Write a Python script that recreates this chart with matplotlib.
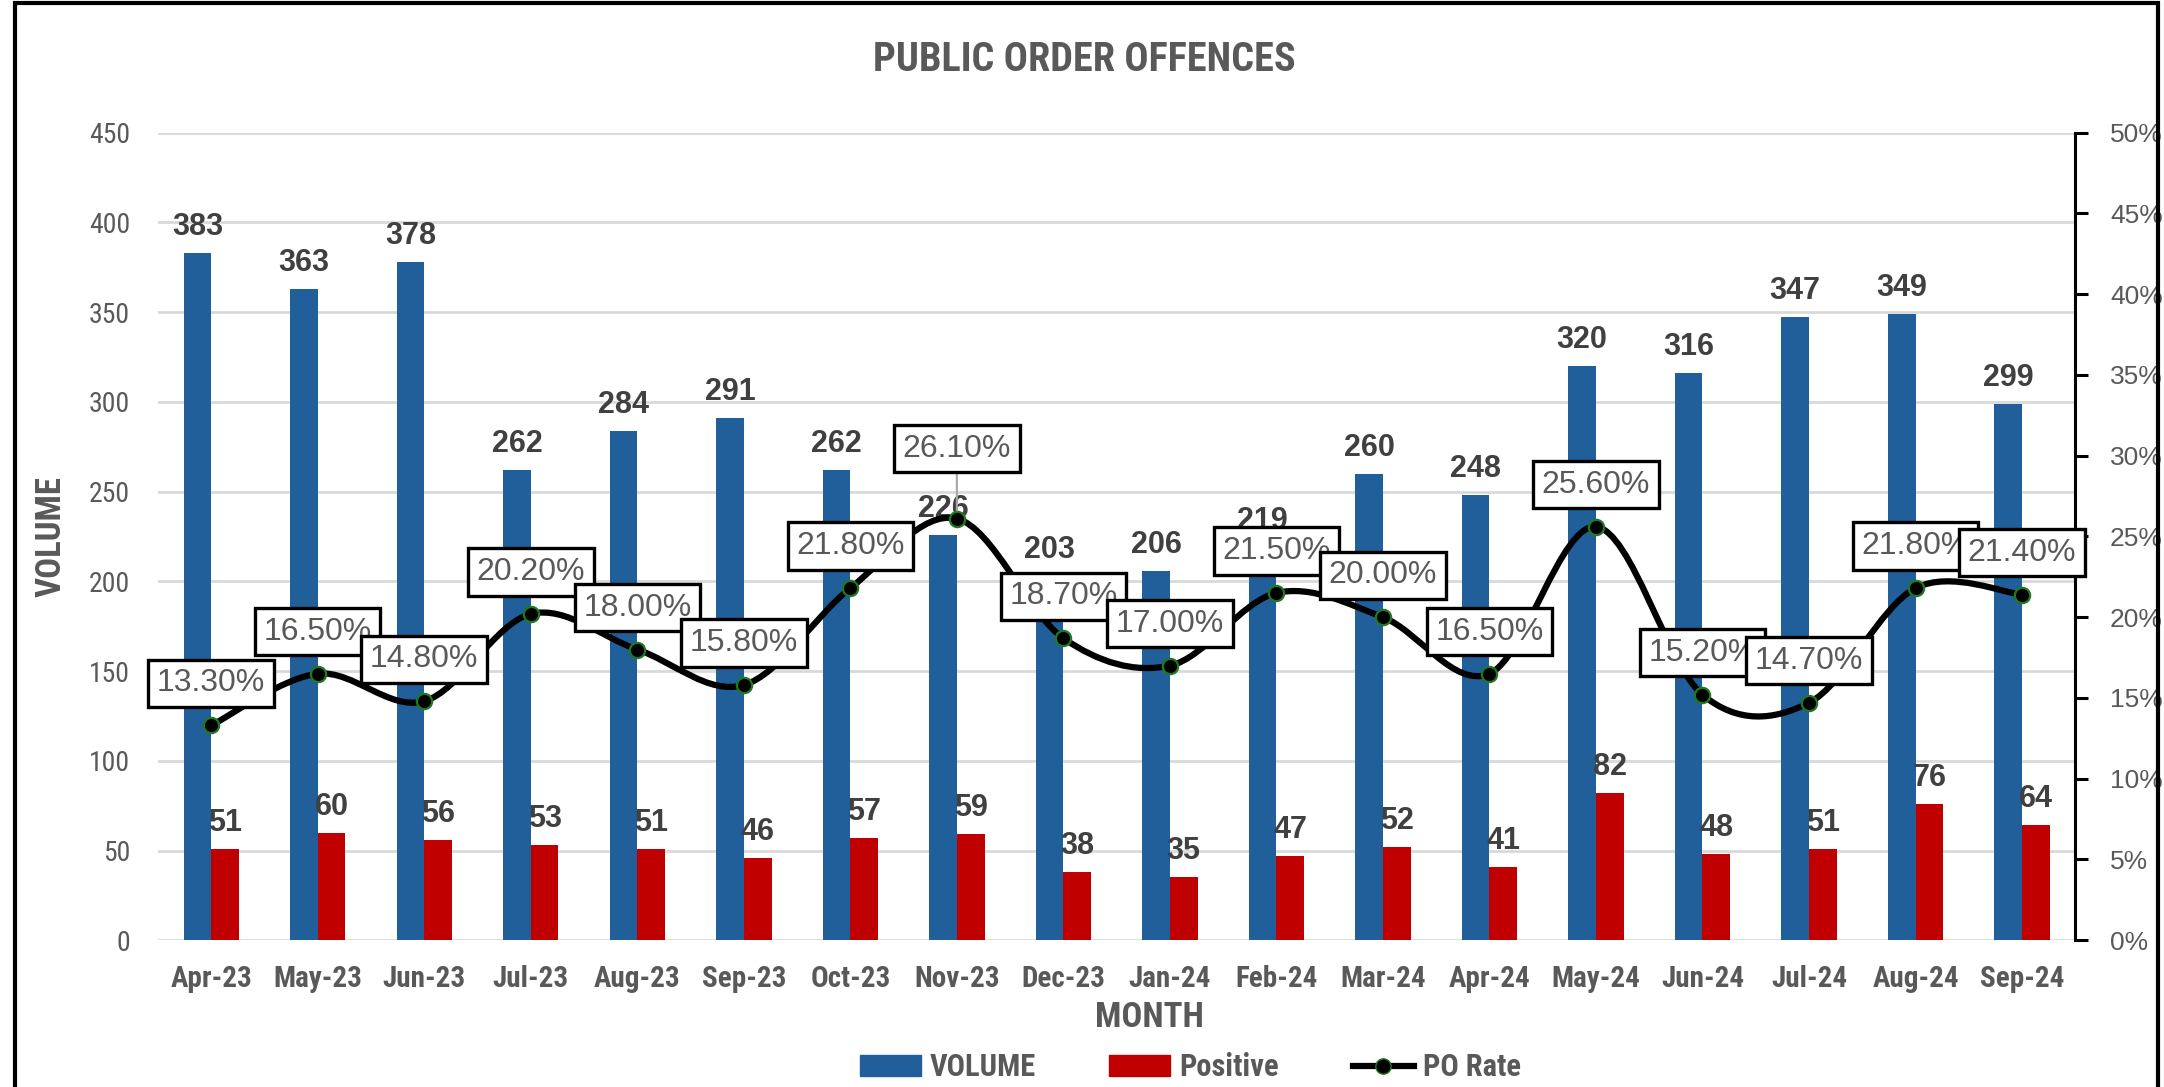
import matplotlib
matplotlib.use("Agg")
import matplotlib.pyplot as plt
from matplotlib import font_manager
from matplotlib.path import Path
from matplotlib.patches import PathPatch, Patch, Rectangle
from matplotlib.lines import Line2D

months = ["Apr-23", "May-23", "Jun-23", "Jul-23", "Aug-23", "Sep-23", "Oct-23", "Nov-23", "Dec-23",
          "Jan-24", "Feb-24", "Mar-24", "Apr-24", "May-24", "Jun-24", "Jul-24", "Aug-24", "Sep-24"]
volume = [383, 363, 378, 262, 284, 291, 262, 226, 203, 206, 219, 260, 248, 320, 316, 347, 349, 299]
positive = [51, 60, 56, 53, 51, 46, 57, 59, 38, 35, 47, 52, 41, 82, 48, 51, 76, 64]
po_rate = [13.3, 16.5, 14.8, 20.2, 18.0, 15.8, 21.8, 26.1, 18.7, 17.0, 21.5, 20.0, 16.5, 25.6, 15.2, 14.7, 21.8, 21.4]

names = {f.name for f in font_manager.fontManager.ttflist}
def pick(*cands):
    for c in cands:
        if c in names:
            return c
    return "DejaVu Sans"

cond = pick("Roboto Condensed", "Liberation Sans Narrow", "Open Sans Condensed", "Liberation Sans")
narrow = pick("Liberation Sans Narrow", "Roboto Condensed", "Liberation Sans")
arial = pick("Liberation Sans", "DejaVu Sans")

BLUE = "#215F9A"
RED = "#C00000"
GRAY = "#595959"
DARK = "#404040"

fig = plt.figure(figsize=(21.64, 10.87), dpi=100)
ax = fig.add_axes([0.073, 0.135, 0.886, 0.743])
ax2 = ax.twinx()

x = list(range(len(months)))
w = 0.26
ax.bar([i - w / 2 for i in x], volume, width=w, color=BLUE, zorder=2)
ax.bar([i + w / 2 for i in x], positive, width=w, color=RED, zorder=2)

for i in x:
    ax.annotate(str(volume[i]), (i - w / 2, volume[i]), xytext=(0, 11), textcoords="offset pixels",
                ha="center", va="bottom", fontsize=22, fontweight="bold", color=DARK, family=arial, zorder=3)
    ax.annotate(str(positive[i]), (i + w / 2, positive[i]), xytext=(0, 11), textcoords="offset pixels",
                ha="center", va="bottom", fontsize=22, fontweight="bold", color=DARK, family=arial, zorder=3)

ax.set_xlim(-0.5, len(months) - 0.5)
ax.set_ylim(0, 450)
ax.set_yticks(range(0, 451, 50))
ax.yaxis.grid(True, color="#D9D9D9", lw=2)
ax.set_axisbelow(True)
for s in ax.spines.values():
    s.set_visible(False)
ax.tick_params(axis="y", length=0, pad=20, labelsize=20, labelcolor=GRAY)
for t in ax.get_yticklabels():
    t.set_family(narrow)
ax.set_xticks(x)
ax.set_xticklabels(months, fontsize=21, fontweight="bold", color=GRAY, family=cond)
ax.tick_params(axis="x", length=0, pad=18)
ax.set_ylabel("VOLUME", fontsize=25, fontweight="bold", color=GRAY, family=cond)
ax.yaxis.set_label_coords(-0.047, 0.5)
ax.set_xlabel("MONTH", fontsize=25, fontweight="bold", color=GRAY, family=cond)
ax.xaxis.set_label_coords(0.517, -0.075)

# smoothed rate line (Catmull-Rom style bezier like Excel)
pts = list(zip(x, po_rate))
verts = [pts[0]]
codes = [Path.MOVETO]
n = len(pts)
for i in range(n - 1):
    p0 = pts[max(i - 1, 0)]
    p1 = pts[i]
    p2 = pts[i + 1]
    p3 = pts[min(i + 2, n - 1)]
    c1 = (p1[0] + (p2[0] - p0[0]) / 6, p1[1] + (p2[1] - p0[1]) / 6)
    c2 = (p2[0] - (p3[0] - p1[0]) / 6, p2[1] - (p3[1] - p1[1]) / 6)
    verts += [c1, c2, p2]
    codes += [Path.CURVE4] * 3
ax2.add_patch(PathPatch(Path(verts, codes), fill=False, edgecolor="black", lw=4.5, zorder=3, capstyle="round"))
ax2.plot(x, po_rate, "o", color="black", markeredgecolor="#1F7A1F", markeredgewidth=1.6, markersize=11, zorder=4)

for i in x:
    off = 70 if i == 7 else 42
    ax2.annotate("%.2f%%" % po_rate[i], (i, po_rate[i]), xytext=(0, off), textcoords="offset pixels",
                 ha="center", va="center", fontsize=23, color=GRAY, family=arial, zorder=6,
                 bbox=dict(boxstyle="square,pad=0.27", fc="white", ec="black", lw=2.4),
                 arrowprops=dict(arrowstyle="-", color="#A6A6A6", lw=1.5, shrinkA=0, shrinkB=6) if i == 7 else None)

ax2.set_ylim(0, 50)
ax2.set_yticks(range(0, 51, 5))
ax2.set_yticklabels(["%d%%" % v for v in range(0, 51, 5)], family=arial)
ax2.tick_params(axis="y", direction="out", length=9, width=2.2, color="black", pad=16, labelsize=19, labelcolor=GRAY)
for k in ["top", "bottom", "left"]:
    ax2.spines[k].set_visible(False)
ax2.spines["right"].set_linewidth(2.2)
ax2.spines["right"].set_color("black")

fig.text(0.501, 0.945, "PUBLIC ORDER OFFENCES", ha="center", va="center", fontsize=29,
         fontweight="bold", color=GRAY, family=cond)

handles = [Patch(color=BLUE), Patch(color=RED),
           Line2D([0], [0], color="black", lw=4.5, marker="o", markersize=11,
                  markerfacecolor="black", markeredgecolor="#1F7A1F")]
fig.legend(handles, ["VOLUME", "Positive", "PO Rate"], loc="center", bbox_to_anchor=(0.55, 0.018),
           ncol=3, frameon=False, prop=dict(family=cond, size=22, weight="bold"),
           labelcolor=GRAY, handlelength=2.0, handletextpad=0.3, columnspacing=2.4)

fig.patches.append(Rectangle((0.007, -0.02), 0.99, 1.017, transform=fig.transFigure, fill=False,
                             ec="black", lw=3))

fig.savefig("out.png", dpi=100)
